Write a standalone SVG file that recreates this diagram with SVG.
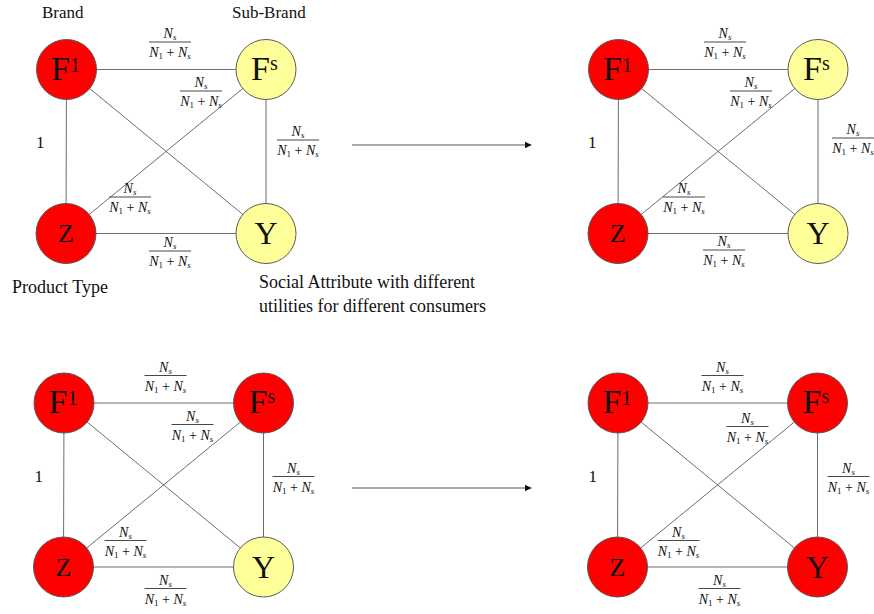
<svg xmlns="http://www.w3.org/2000/svg" width="874" height="614" viewBox="0 0 874 614">
  <style>
    text { font-family: "Liberation Serif", "Times New Roman", serif; fill: #111; }
    .lbl { font-size: 17px; }
    .cap { font-size: 18px; }
    .node { stroke: #5a5a5a; stroke-width: 1; }
    .red { fill: #ff0000; }
    .yel { fill: #ffff99; }
    .edge { stroke: #6e6e6e; stroke-width: 1; fill: none; }
    .bar { stroke: #333; stroke-width: 0.9; }
    .fr { font-size: 14px; text-anchor: middle; }
    .it { font-style: italic; }
    .sub { font-size: 9px; }
    .big { font-size: 34px; }
    .sup { font-size: 20px; }
    .arrow { stroke: #555; stroke-width: 1.2; }
  </style>
  <defs>
    <marker id="head" viewBox="0 0 10 10" refX="9" refY="5" markerWidth="6" markerHeight="6" orient="auto">
      <path d="M0,0 L10,5 L0,10 z" fill="#111"/>
    </marker>
  </defs>

  <!-- captions -->
  <text class="lbl" x="42" y="18">Brand</text>
  <text class="lbl" x="232" y="18">Sub-Brand</text>
  <text class="cap" x="12" y="293">Product Type</text>
  <text class="cap" x="259" y="288">Social Attribute with different</text>
  <text class="cap" x="259" y="312">utilities for different consumers</text>

  <!-- transition arrows -->
  <g id="arrows">
    <line class="arrow" x1="352" y1="145" x2="531" y2="145" marker-end="url(#head)"/>
    <line class="arrow" x1="352" y1="488" x2="531" y2="488" marker-end="url(#head)"/>
  </g>

  <!-- ===== panel 1 ===== -->
  <g id="panel1">
    <g id="p1-connectors">
      <line class="edge" x1="66.5" y1="69.5" x2="266" y2="69.5"/>
      <line class="edge" x1="66.5" y1="69.5" x2="66" y2="233.5"/>
      <line class="edge" x1="266" y1="69.5" x2="266" y2="233.5"/>
      <line class="edge" x1="66" y1="233.5" x2="266" y2="233.5"/>
      <line class="edge" x1="66.5" y1="69.5" x2="266" y2="233.5"/>
      <line class="edge" x1="266" y1="69.5" x2="66" y2="233.5"/>
    </g>
    <g id="p1-weights">
      <text class="lbl" x="36" y="148">1</text>
      <g><text class="fr" x="170" y="38"><tspan class="it">N</tspan><tspan class="sub it" dy="2">s</tspan></text><line class="bar" x1="149" y1="42" x2="191" y2="42"/><text class="fr" x="170" y="57"><tspan class="it">N</tspan><tspan class="sub" dy="2">1</tspan><tspan dy="-2"> + </tspan><tspan class="it">N</tspan><tspan class="sub it" dy="2">s</tspan></text></g>
      <g><text class="fr" x="201" y="87"><tspan class="it">N</tspan><tspan class="sub it" dy="2">s</tspan></text><line class="bar" x1="180" y1="91" x2="222" y2="91"/><text class="fr" x="201" y="106"><tspan class="it">N</tspan><tspan class="sub" dy="2">1</tspan><tspan dy="-2"> + </tspan><tspan class="it">N</tspan><tspan class="sub it" dy="2">s</tspan></text></g>
      <g><text class="fr" x="298" y="136"><tspan class="it">N</tspan><tspan class="sub it" dy="2">s</tspan></text><line class="bar" x1="277" y1="140" x2="319" y2="140"/><text class="fr" x="298" y="155"><tspan class="it">N</tspan><tspan class="sub" dy="2">1</tspan><tspan dy="-2"> + </tspan><tspan class="it">N</tspan><tspan class="sub it" dy="2">s</tspan></text></g>
      <g><text class="fr" x="130" y="193"><tspan class="it">N</tspan><tspan class="sub it" dy="2">s</tspan></text><line class="bar" x1="109" y1="197" x2="151" y2="197"/><text class="fr" x="130" y="212"><tspan class="it">N</tspan><tspan class="sub" dy="2">1</tspan><tspan dy="-2"> + </tspan><tspan class="it">N</tspan><tspan class="sub it" dy="2">s</tspan></text></g>
      <g><text class="fr" x="170" y="247"><tspan class="it">N</tspan><tspan class="sub it" dy="2">s</tspan></text><line class="bar" x1="149" y1="251" x2="191" y2="251"/><text class="fr" x="170" y="266"><tspan class="it">N</tspan><tspan class="sub" dy="2">1</tspan><tspan dy="-2"> + </tspan><tspan class="it">N</tspan><tspan class="sub it" dy="2">s</tspan></text></g>
    </g>
    <g id="p1-F1"><circle class="node red" cx="66.5" cy="69.5" r="30"/><text class="big" x="51" y="79.5">F<tspan class="sup" dy="-8">1</tspan></text></g>
    <g id="p1-Fs"><circle class="node yel" cx="266" cy="69.5" r="30"/><text class="big" x="251" y="79.5">F<tspan class="sup" dy="-10">s</tspan></text></g>
    <g id="p1-Z"><circle class="node red" cx="66" cy="233.5" r="30"/><text x="66" y="242" font-size="26" text-anchor="middle">Z</text></g>
    <g id="p1-Y"><circle class="node yel" cx="266" cy="233.5" r="30"/><text x="266" y="244" font-size="32" text-anchor="middle">Y</text></g>
  </g>

  <!-- ===== panel 2 ===== -->
  <g id="panel2" transform="translate(552,0)">
    <g id="p2-connectors">
      <line class="edge" x1="66.5" y1="69.5" x2="266" y2="69.5"/>
      <line class="edge" x1="66.5" y1="69.5" x2="66" y2="233.5"/>
      <line class="edge" x1="266" y1="69.5" x2="266" y2="233.5"/>
      <line class="edge" x1="66" y1="233.5" x2="266" y2="233.5"/>
      <line class="edge" x1="66.5" y1="69.5" x2="266" y2="233.5"/>
      <line class="edge" x1="266" y1="69.5" x2="66" y2="233.5"/>
    </g>
    <g id="p2-weights">
      <text class="lbl" x="36" y="148">1</text>
      <g><text class="fr" x="173" y="38"><tspan class="it">N</tspan><tspan class="sub it" dy="2">s</tspan></text><line class="bar" x1="152" y1="42" x2="194" y2="42"/><text class="fr" x="173" y="57"><tspan class="it">N</tspan><tspan class="sub" dy="2">1</tspan><tspan dy="-2"> + </tspan><tspan class="it">N</tspan><tspan class="sub it" dy="2">s</tspan></text></g>
      <g><text class="fr" x="199" y="87"><tspan class="it">N</tspan><tspan class="sub it" dy="2">s</tspan></text><line class="bar" x1="178" y1="91" x2="220" y2="91"/><text class="fr" x="199" y="106"><tspan class="it">N</tspan><tspan class="sub" dy="2">1</tspan><tspan dy="-2"> + </tspan><tspan class="it">N</tspan><tspan class="sub it" dy="2">s</tspan></text></g>
      <g><text class="fr" x="301" y="134"><tspan class="it">N</tspan><tspan class="sub it" dy="2">s</tspan></text><line class="bar" x1="280" y1="138" x2="322" y2="138"/><text class="fr" x="301" y="153"><tspan class="it">N</tspan><tspan class="sub" dy="2">1</tspan><tspan dy="-2"> + </tspan><tspan class="it">N</tspan><tspan class="sub it" dy="2">s</tspan></text></g>
      <g><text class="fr" x="132" y="193"><tspan class="it">N</tspan><tspan class="sub it" dy="2">s</tspan></text><line class="bar" x1="111" y1="197" x2="153" y2="197"/><text class="fr" x="132" y="212"><tspan class="it">N</tspan><tspan class="sub" dy="2">1</tspan><tspan dy="-2"> + </tspan><tspan class="it">N</tspan><tspan class="sub it" dy="2">s</tspan></text></g>
      <g><text class="fr" x="172" y="246"><tspan class="it">N</tspan><tspan class="sub it" dy="2">s</tspan></text><line class="bar" x1="151" y1="250" x2="193" y2="250"/><text class="fr" x="172" y="265"><tspan class="it">N</tspan><tspan class="sub" dy="2">1</tspan><tspan dy="-2"> + </tspan><tspan class="it">N</tspan><tspan class="sub it" dy="2">s</tspan></text></g>
    </g>
    <g id="p2-F1"><circle class="node red" cx="66.5" cy="69.5" r="30"/><text class="big" x="51" y="79.5">F<tspan class="sup" dy="-8">1</tspan></text></g>
    <g id="p2-Fs"><circle class="node yel" cx="266" cy="69.5" r="30"/><text class="big" x="251" y="79.5">F<tspan class="sup" dy="-10">s</tspan></text></g>
    <g id="p2-Z"><circle class="node red" cx="66" cy="233.5" r="30"/><text x="66" y="242" font-size="26" text-anchor="middle">Z</text></g>
    <g id="p2-Y"><circle class="node yel" cx="266" cy="233.5" r="30"/><text x="266" y="244" font-size="32" text-anchor="middle">Y</text></g>
  </g>

  <!-- ===== panel 3 ===== -->
  <g id="panel3" transform="translate(-2.5,333.5)">
    <g id="p3-connectors">
      <line class="edge" x1="66.5" y1="69.5" x2="266" y2="69.5"/>
      <line class="edge" x1="66.5" y1="69.5" x2="66" y2="233.5"/>
      <line class="edge" x1="266" y1="69.5" x2="266" y2="233.5"/>
      <line class="edge" x1="66" y1="233.5" x2="266" y2="233.5"/>
      <line class="edge" x1="66.5" y1="69.5" x2="266" y2="233.5"/>
      <line class="edge" x1="266" y1="69.5" x2="66" y2="233.5"/>
    </g>
    <g id="p3-weights">
      <text class="lbl" x="37" y="148">1</text>
      <g><text class="fr" x="168" y="38"><tspan class="it">N</tspan><tspan class="sub it" dy="2">s</tspan></text><line class="bar" x1="147" y1="42" x2="189" y2="42"/><text class="fr" x="168" y="57"><tspan class="it">N</tspan><tspan class="sub" dy="2">1</tspan><tspan dy="-2"> + </tspan><tspan class="it">N</tspan><tspan class="sub it" dy="2">s</tspan></text></g>
      <g><text class="fr" x="195" y="87"><tspan class="it">N</tspan><tspan class="sub it" dy="2">s</tspan></text><line class="bar" x1="174" y1="91" x2="216" y2="91"/><text class="fr" x="195" y="106"><tspan class="it">N</tspan><tspan class="sub" dy="2">1</tspan><tspan dy="-2"> + </tspan><tspan class="it">N</tspan><tspan class="sub it" dy="2">s</tspan></text></g>
      <g><text class="fr" x="296" y="139"><tspan class="it">N</tspan><tspan class="sub it" dy="2">s</tspan></text><line class="bar" x1="275" y1="143" x2="317" y2="143"/><text class="fr" x="296" y="158"><tspan class="it">N</tspan><tspan class="sub" dy="2">1</tspan><tspan dy="-2"> + </tspan><tspan class="it">N</tspan><tspan class="sub it" dy="2">s</tspan></text></g>
      <g><text class="fr" x="128" y="203"><tspan class="it">N</tspan><tspan class="sub it" dy="2">s</tspan></text><line class="bar" x1="107" y1="207" x2="149" y2="207"/><text class="fr" x="128" y="222"><tspan class="it">N</tspan><tspan class="sub" dy="2">1</tspan><tspan dy="-2"> + </tspan><tspan class="it">N</tspan><tspan class="sub it" dy="2">s</tspan></text></g>
      <g><text class="fr" x="168" y="251"><tspan class="it">N</tspan><tspan class="sub it" dy="2">s</tspan></text><line class="bar" x1="147" y1="255" x2="189" y2="255"/><text class="fr" x="168" y="270"><tspan class="it">N</tspan><tspan class="sub" dy="2">1</tspan><tspan dy="-2"> + </tspan><tspan class="it">N</tspan><tspan class="sub it" dy="2">s</tspan></text></g>
    </g>
    <g id="p3-F1"><circle class="node red" cx="66.5" cy="69.5" r="30"/><text class="big" x="51" y="79.5">F<tspan class="sup" dy="-8">1</tspan></text></g>
    <g id="p3-Fs"><circle class="node red" cx="266" cy="69.5" r="30"/><text class="big" x="251" y="79.5">F<tspan class="sup" dy="-10">s</tspan></text></g>
    <g id="p3-Z"><circle class="node red" cx="66" cy="233.5" r="30"/><text x="66" y="242" font-size="26" text-anchor="middle">Z</text></g>
    <g id="p3-Y"><circle class="node yel" cx="266" cy="233.5" r="30"/><text x="266" y="244" font-size="32" text-anchor="middle">Y</text></g>
  </g>

  <!-- ===== panel 4 ===== -->
  <g id="panel4" transform="translate(551.5,333.5)">
    <g id="p4-connectors">
      <line class="edge" x1="66.5" y1="69.5" x2="266" y2="69.5"/>
      <line class="edge" x1="66.5" y1="69.5" x2="66" y2="233.5"/>
      <line class="edge" x1="266" y1="69.5" x2="266" y2="233.5"/>
      <line class="edge" x1="66" y1="233.5" x2="266" y2="233.5"/>
      <line class="edge" x1="66.5" y1="69.5" x2="266" y2="233.5"/>
      <line class="edge" x1="266" y1="69.5" x2="66" y2="233.5"/>
    </g>
    <g id="p4-weights">
      <text class="lbl" x="37" y="148">1</text>
      <g><text class="fr" x="171" y="38"><tspan class="it">N</tspan><tspan class="sub it" dy="2">s</tspan></text><line class="bar" x1="150" y1="42" x2="192" y2="42"/><text class="fr" x="171" y="57"><tspan class="it">N</tspan><tspan class="sub" dy="2">1</tspan><tspan dy="-2"> + </tspan><tspan class="it">N</tspan><tspan class="sub it" dy="2">s</tspan></text></g>
      <g><text class="fr" x="196" y="89"><tspan class="it">N</tspan><tspan class="sub it" dy="2">s</tspan></text><line class="bar" x1="175" y1="93" x2="217" y2="93"/><text class="fr" x="196" y="108"><tspan class="it">N</tspan><tspan class="sub" dy="2">1</tspan><tspan dy="-2"> + </tspan><tspan class="it">N</tspan><tspan class="sub it" dy="2">s</tspan></text></g>
      <g><text class="fr" x="297" y="139"><tspan class="it">N</tspan><tspan class="sub it" dy="2">s</tspan></text><line class="bar" x1="276" y1="143" x2="318" y2="143"/><text class="fr" x="297" y="158"><tspan class="it">N</tspan><tspan class="sub" dy="2">1</tspan><tspan dy="-2"> + </tspan><tspan class="it">N</tspan><tspan class="sub it" dy="2">s</tspan></text></g>
      <g><text class="fr" x="127" y="203"><tspan class="it">N</tspan><tspan class="sub it" dy="2">s</tspan></text><line class="bar" x1="106" y1="207" x2="148" y2="207"/><text class="fr" x="127" y="222"><tspan class="it">N</tspan><tspan class="sub" dy="2">1</tspan><tspan dy="-2"> + </tspan><tspan class="it">N</tspan><tspan class="sub it" dy="2">s</tspan></text></g>
      <g><text class="fr" x="168" y="251"><tspan class="it">N</tspan><tspan class="sub it" dy="2">s</tspan></text><line class="bar" x1="147" y1="255" x2="189" y2="255"/><text class="fr" x="168" y="270"><tspan class="it">N</tspan><tspan class="sub" dy="2">1</tspan><tspan dy="-2"> + </tspan><tspan class="it">N</tspan><tspan class="sub it" dy="2">s</tspan></text></g>
    </g>
    <g id="p4-F1"><circle class="node red" cx="66.5" cy="69.5" r="30"/><text class="big" x="51" y="79.5">F<tspan class="sup" dy="-8">1</tspan></text></g>
    <g id="p4-Fs"><circle class="node red" cx="266" cy="69.5" r="30"/><text class="big" x="251" y="79.5">F<tspan class="sup" dy="-10">s</tspan></text></g>
    <g id="p4-Z"><circle class="node red" cx="66" cy="233.5" r="30"/><text x="66" y="242" font-size="26" text-anchor="middle">Z</text></g>
    <g id="p4-Y"><circle class="node red" cx="266" cy="233.5" r="30"/><text x="266" y="244" font-size="32" text-anchor="middle">Y</text></g>
  </g>
</svg>
